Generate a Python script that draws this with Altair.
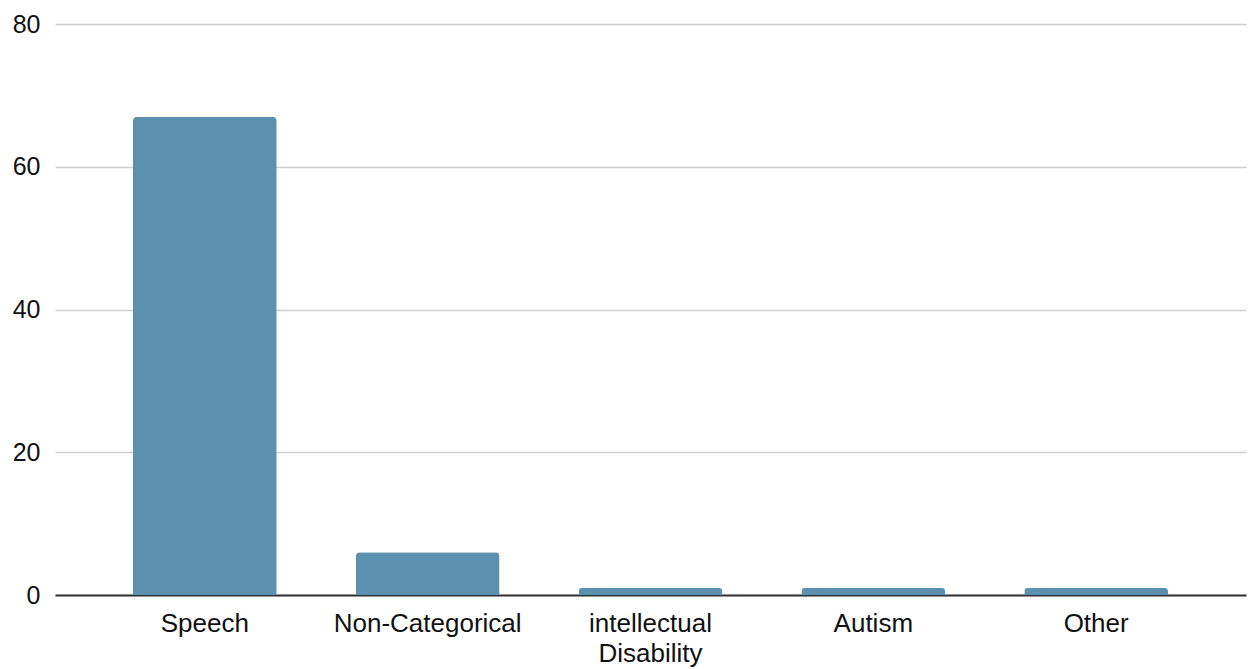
import altair as alt
import pandas as pd

categories = ["Speech", "Non-Categorical", "intellectual Disability", "Autism", "Other"]
counts = [67, 6, 1, 1, 1]

df = pd.DataFrame({"category": categories, "count": counts})

bar_color = "#5b91ae"

bars = alt.Chart(df).mark_bar(
    color=bar_color,
    cornerRadiusTopLeft=4,
    cornerRadiusTopRight=4,
).encode(
    x=alt.X(
        "category:N",
        sort=categories,
        title=None,
        scale=alt.Scale(paddingInner=0.355, paddingOuter=0.35),
        axis=alt.Axis(
            labelAngle=0,
            labelFont="Liberation Sans",
            labelFontSize=26,
            labelColor="#111111",
            labelPadding=15,
            labelLineHeight=30,
            labelLimit=0,
            labelExpr="datum.label == 'intellectual Disability' ? ['intellectual', 'Disability'] : datum.label",
            ticks=False,
            domain=True,
            domainColor="#333333",
            domainWidth=2,
            grid=False,
        ),
    ),
    y=alt.Y(
        "count:Q",
        title=None,
        scale=alt.Scale(domain=[0, 80], nice=False),
        axis=alt.Axis(
            values=[0, 20, 40, 60, 80],
            labelFont="Liberation Sans",
            labelFontSize=25,
            labelColor="#111111",
            labelPadding=15,
            ticks=False,
            domain=False,
            gridColor="#cfcfcf",
            gridWidth=1.5,
        ),
    ),
)

chart = bars.properties(
    width=1191,
    height=571,
    autosize=alt.AutoSizeParams(type="none"),
    padding={"left": 55, "top": 24, "right": 8, "bottom": 74},
    background="white",
).configure_view(stroke=None)

chart.save("out.html", embed_options={"renderer": "svg", "actions": False})
